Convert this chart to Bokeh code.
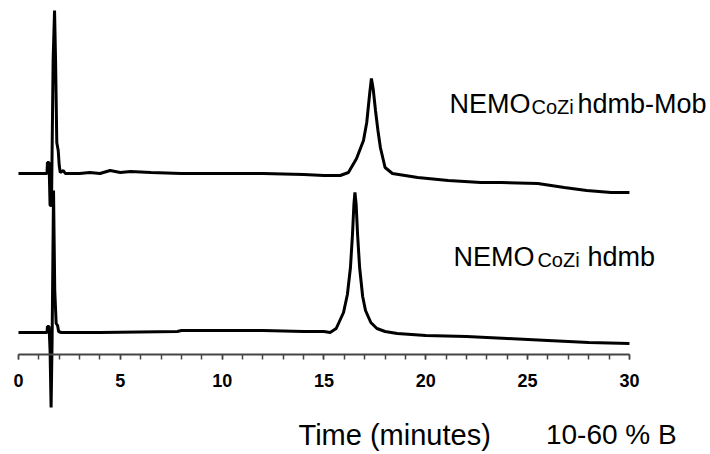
from bokeh.plotting import figure
from bokeh.models import Range1d, SingleIntervalTicker, Label
from bokeh.embed import file_html
from bokeh.resources import INLINE

# Retention time (minutes) and detector signal (arbitrary units) for each run
upper_time = [0, 1.40, 1.42, 1.50, 1.55, 1.62, 1.70, 1.77, 1.82, 1.88, 1.95, 2.0, 2.05, 2.2, 2.3,
              3.0, 3.5, 4.0, 4.5, 5.0, 5.5, 6.5, 8, 10, 12, 14, 15.0, 15.8, 16.2, 16.6, 16.94,
              17.1, 17.25, 17.33, 17.42, 17.53, 17.65, 17.77, 18.0, 18.36, 19.6, 21.1, 22.7,
              23.7, 25.5, 26.8, 27.9, 29.1, 30]
upper_signal = [181, 181, 192, 192, 149, 149, 294, 344, 294, 212, 204, 189, 182, 184, 181,
                181, 182, 181, 184, 182, 183, 182, 181, 181, 181, 180, 179, 179, 182, 196, 214,
                232, 262, 276, 265, 244, 224, 207, 187, 181, 177, 174, 172,
                172, 171, 167, 164, 162, 162]

lower_time = [0, 1.40, 1.42, 1.50, 1.55, 1.60, 1.65, 1.72, 1.78, 1.85, 1.92, 1.97, 2.1, 4, 7.8,
              8, 12, 14, 15.0, 15.3, 15.6, 15.96, 16.15, 16.3, 16.4, 16.47, 16.52, 16.58,
              16.65, 16.75, 16.9, 17.04, 17.3, 17.6, 18.0, 18.6, 20, 22, 24, 26, 28, 30]
lower_signal = [22, 22, 28, 28, 4, -53, 14, 164, 64, 31, 29, 23, 22, 22, 23,
                24, 24, 23, 23, 22, 26, 42, 60, 87, 120, 150, 162, 150,
                120, 87, 58, 44, 32, 26, 23, 21, 19, 18, 16, 14, 12, 11]

upper_name = ["NEMO", "CoZi", "hdmb-Mob"]
lower_name = ["NEMO", "CoZi", "hdmb"]
x_title = "Time (minutes)"
gradient = "10-60 % B"

p = figure(frame_width=710, frame_height=454, output_backend="svg", toolbar_location=None,
           x_range=Range1d(-0.884, 33.98), y_range=Range1d(-100, 354),
           y_axis_location=None, min_border_left=0, min_border_right=0,
           min_border_top=0, min_border_bottom=0)
p.outline_line_color = None
p.xgrid.visible = False
p.ygrid.visible = False
p.background_fill_color = "white"
p.border_fill_color = "white"

p.line(upper_time, upper_signal, line_color="black", line_width=3)
p.line(lower_time, lower_signal, line_color="black", line_width=3)

ax = p.xaxis[0]
ax.fixed_location = 0
ax.bounds = (0, 30)
ax.ticker = SingleIntervalTicker(interval=5, num_minor_ticks=5)
ax.axis_line_color = "#444444"
ax.axis_line_width = 2
ax.major_tick_line_color = "#444444"
ax.minor_tick_line_color = "#444444"
ax.major_tick_line_width = 1.5
ax.minor_tick_line_width = 1.5
ax.major_tick_in = 0
ax.major_tick_out = 5
ax.minor_tick_in = 0
ax.minor_tick_out = 5
ax.major_label_text_font = "Liberation Sans"
ax.major_label_text_font_style = "bold"
ax.major_label_text_font_size = "18px"
ax.major_label_text_color = "black"
ax.major_label_standoff = 14

FONT = "Liberation Sans"

def add_name(parts, xs, y, big="27px", small="20px"):
    for part, x, size in zip(parts, xs, [big, small, big]):
        yy = y if size == big else y - 3
        p.add_layout(Label(x=x, y=yy, text=part, text_font=FONT, text_font_size=size,
                           text_color="black", text_baseline="middle", text_align="left"))

add_name(upper_name, [21.16, 25.19, 27.45], 354 - 103)
add_name(lower_name, [21.36, 25.48, 27.94], 354 - 256)

p.add_layout(Label(x=13.75, y=354 - 434, text=x_title, text_font=FONT, text_font_size="29px",
                   text_color="black", text_baseline="middle"))
p.add_layout(Label(x=25.9, y=354 - 434, text=gradient, text_font=FONT, text_font_size="28px",
                   text_color="black", text_baseline="middle"))

open("out.html", "w").write(file_html(p, INLINE))
